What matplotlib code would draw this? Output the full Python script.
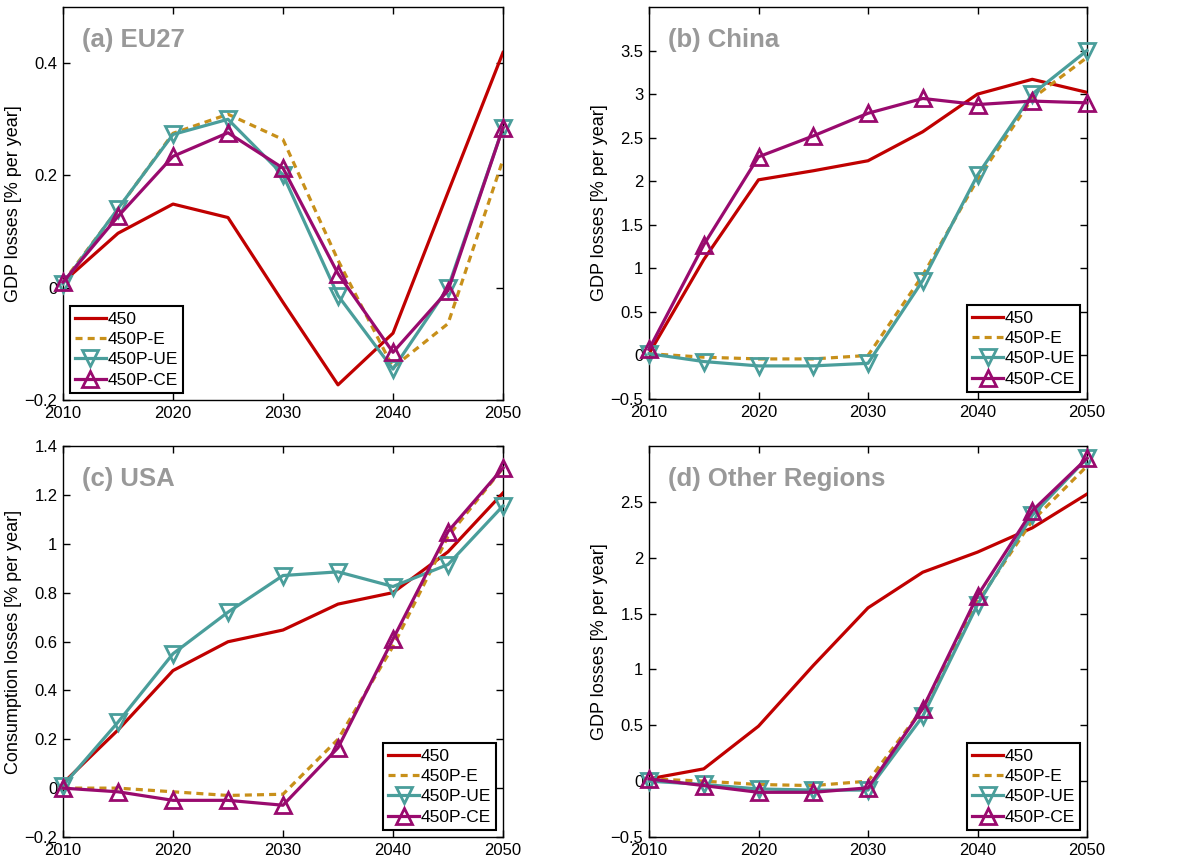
import matplotlib
matplotlib.use("Agg")
import matplotlib.pyplot as plt
import numpy as np

plt.rcParams['font.family'] = ['Liberation Sans', 'DejaVu Sans']

years = [2010, 2015, 2020, 2025, 2030, 2035, 2040, 2045, 2050]
series_names = ["450", "450P-E", "450P-UE", "450P-CE"]

# (a) EU27
eu_450 = [0.01, 0.097, 0.149, 0.125, -0.026, -0.173, -0.081, 0.17, 0.419]
eu_pe = [0.01, 0.14, 0.275, 0.309, 0.264, 0.049, -0.142, -0.064, 0.228]
eu_pue = [0.007, 0.141, 0.273, 0.30, 0.201, -0.014, -0.145, 0.0, 0.285]
eu_pce = [0.01, 0.127, 0.234, 0.276, 0.213, 0.025, -0.115, -0.005, 0.285]

# (b) China
cn_450 = [0.02, 1.10, 2.016, 2.12, 2.235, 2.568, 3.0, 3.17, 3.02]
cn_pe = [0.02, -0.02, -0.04, -0.04, 0.0, 0.92, 2.02, 2.95, 3.42]
cn_pue = [0.02, -0.07, -0.12, -0.12, -0.09, 0.86, 2.07, 3.0, 3.5]
cn_pce = [0.07, 1.27, 2.28, 2.52, 2.78, 2.95, 2.88, 2.92, 2.9]

# (c) USA
us_450 = [0.02, 0.238, 0.481, 0.599, 0.647, 0.753, 0.80, 0.967, 1.208]
us_pe = [0.0, 0.0, -0.015, -0.03, -0.025, 0.2, 0.58, 1.03, 1.31]
us_pue = [0.01, 0.27, 0.55, 0.72, 0.87, 0.885, 0.825, 0.915, 1.155]
us_pce = [0.0, -0.015, -0.05, -0.05, -0.07, 0.165, 0.61, 1.05, 1.31]

# (d) Other Regions
ot_450 = [0.02, 0.11, 0.492, 1.035, 1.551, 1.87, 2.05, 2.267, 2.57]
ot_pe = [0.02, 0.0, -0.03, -0.04, 0.0, 0.65, 1.6, 2.33, 2.82]
ot_pue = [0.0, -0.03, -0.07, -0.08, -0.08, 0.58, 1.58, 2.38, 2.89]
ot_pce = [0.02, -0.04, -0.1, -0.1, -0.06, 0.65, 1.66, 2.42, 2.89]

panel_titles = ["(a) EU27", "(b) China", "(c) USA", "(d) Other Regions"]
ylabels = ["GDP losses [% per year]", "GDP losses [% per year]",
           "Consumption losses [% per year]", "GDP losses [% per year]"]
ylims = [(-0.2, 0.5), (-0.5, 4.0), (-0.2, 1.4), (-0.5, 3.0)]
yticks = [[-0.2, 0, 0.2, 0.4],
          [-0.5, 0, 0.5, 1, 1.5, 2, 2.5, 3, 3.5],
          [-0.2, 0, 0.2, 0.4, 0.6, 0.8, 1, 1.2, 1.4],
          [-0.5, 0, 0.5, 1, 1.5, 2, 2.5]]
yticklabels = [["\u22120.2", "0", "0.2", "0.4"],
               ["\u22120.5", "0", "0.5", "1", "1.5", "2", "2.5", "3", "3.5"],
               ["\u22120.2", "0", "0.2", "0.4", "0.6", "0.8", "1", "1.2", "1.4"],
               ["\u22120.5", "0", "0.5", "1", "1.5", "2", "2.5"]]
xticks = [2010, 2020, 2030, 2040, 2050]
legend_locs = ["lower left", "lower right", "lower right", "lower right"]

data = [[eu_450, eu_pe, eu_pue, eu_pce],
        [cn_450, cn_pe, cn_pue, cn_pce],
        [us_450, us_pe, us_pue, us_pce],
        [ot_450, ot_pe, ot_pue, ot_pce]]

c_red = "#C00000"
c_gold = "#C8901A"
c_teal = "#4A9E9B"
c_purple = "#990A6E"

fig = plt.figure(figsize=(11.83, 8.63), dpi=100)
W, H = 1183.0, 863.0
boxes = [(63, 7, 503, 400), (649, 7, 1087, 399),
         (63, 446, 503, 837), (649, 446, 1087, 837)]

for i, (l, t, r, b) in enumerate(boxes):
    ax = fig.add_axes([l / W, 1 - b / H, (r - l) / W, (b - t) / H])
    s450, spe, spue, spce = data[i]
    ax.plot(years, s450, color=c_red, lw=2.3, label=series_names[0], zorder=3)
    ax.plot(years, spe, color=c_gold, lw=2.3, linestyle=(0, (2.2, 1.6)),
            label=series_names[1], zorder=3)
    ax.plot(years, spue, color=c_teal, lw=2.3, marker='v', ms=11,
            mfc='none', mec=c_teal, mew=2.0, label=series_names[2],
            clip_on=False, zorder=4)
    ax.plot(years, spce, color=c_purple, lw=2.3, marker='^', ms=11,
            mfc='none', mec=c_purple, mew=2.0, label=series_names[3],
            clip_on=False, zorder=5)
    ax.set_xlim(2010, 2050)
    ax.set_ylim(*ylims[i])
    ax.set_xticks(xticks)
    ax.set_xticklabels([str(x) for x in xticks])
    ax.set_yticks(yticks[i])
    ax.set_yticklabels(yticklabels[i])
    ax.tick_params(direction='in', top=True, right=True, length=5,
                   width=1, labelsize=12, pad=4)
    for sp in ax.spines.values():
        sp.set_linewidth(1.0)
    ax.set_ylabel(ylabels[i], fontsize=13, labelpad=2)
    ax.text(0.043, 0.915, panel_titles[i], transform=ax.transAxes,
            fontsize=18.5, fontweight='bold', color="#999999",
            va='center', ha='left')
    leg = ax.legend(loc=legend_locs[i], fontsize=12.5, frameon=True,
                    fancybox=False, edgecolor='black', handlelength=1.75,
                    handletextpad=0.1, borderpad=0.3, labelspacing=0.3,
                    borderaxespad=0.4, framealpha=1)
    leg.get_frame().set_linewidth(1.5)
    leg.set_zorder(10)

fig.savefig("out.png", dpi=100)
